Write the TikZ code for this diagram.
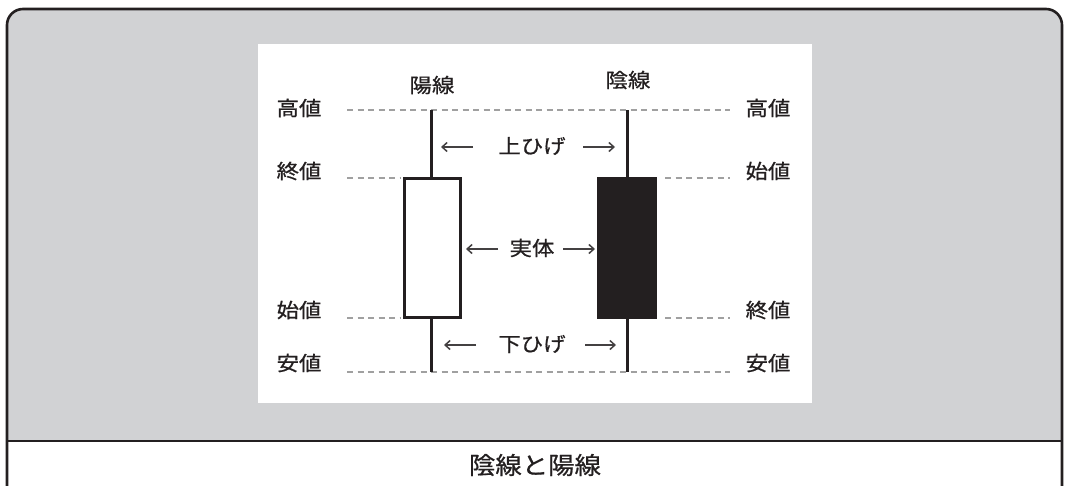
\documentclass[tikz,border=0pt]{standalone}
\usepackage{fontspec}
\setmainfont{Noto Sans CJK JP}
\newfontfamily\jpm[FakeBold=0.7]{Noto Sans CJK JP}
\usetikzlibrary{arrows.meta}
\definecolor{frameg}{HTML}{D1D2D4}
\definecolor{ink}{HTML}{231F20}
\definecolor{dashg}{HTML}{A0A0A0}
\tikzset{
  lbl/.style={inner sep=0pt, text=ink, font=\jpm\fontsize{20}{24}\selectfont, xscale=1.12},
  mid/.style={inner sep=0pt, text=ink, font=\jpm\fontsize{20}{24}\selectfont, xscale=1.12},
  guide/.style={dashg, line width=1.3pt, dash pattern=on 6pt off 4.5pt},
  wick/.style={ink, line width=3pt},
  arr/.style={ink!85, line width=1.5pt, -{Straight Barb[length=5pt,width=9pt]}},
}
\begin{document}
\begin{tikzpicture}[x=1pt,y=-1pt]
\useasboundingbox (0,0) rectangle (1069,485);
\clip (0,0) rectangle (1069,485);
% outer frame
\fill[white, rounded corners=16pt] (7,9) rectangle (1062,502);
\fill[frameg, rounded corners=16pt] (7,9) rectangle (1062,441) ;
\fill[frameg] (7,420) rectangle (1062,441);
\draw[ink, line width=2.6pt, rounded corners=16pt] (7,9) rectangle (1062,502);
\draw[ink, line width=2.6pt] (7,441) -- (1062,441);
\node[inner sep=0pt, text=ink, font=\jpm\fontsize{24}{28}\selectfont, xscale=1.1] (title) at (535,465) {陰線と陽線};
% white panel
\fill[white] (258,44) rectangle (812,403);
% guides
\draw[guide] (347,110) -- (730,110);
\draw[guide] (347,178) -- (401,178);
\draw[guide] (665,178) -- (730,178);
\draw[guide] (347,318) -- (401,318);
\draw[guide] (665,318) -- (730,318);
\draw[guide] (347,372) -- (730,372);
% yang candle (white)
\coordinate (yh) at (431,110);
\coordinate (yl) at (431,372);
\node[draw=ink, line width=3pt, fill=white, minimum width=56pt, minimum height=139pt, inner sep=0pt] (ybody) at (432,248) {};
\draw[wick] (yh) -- (ybody.north -| yh);
\draw[wick] (ybody.south -| yl) -- (yl);
% yin candle (black)
\coordinate (nh) at (627,110);
\coordinate (nl) at (627,372);
\node[fill=ink, minimum width=60pt, minimum height=142pt, inner sep=0pt] (nbody) at (627,248) {};
\draw[wick] (nh) -- (nbody.north -| nh);
\draw[wick] (nbody.south -| nl) -- (nl);
% headers
\node[lbl] (yang) at (432,85) {陽線};
\node[lbl] (yin) at (628,80) {陰線};
% left labels
\node[lbl] (lh) at (299,108) {高値};
\node[lbl] (lc) at (299,171) {終値};
\node[lbl] (lo) at (299,310) {始値};
\node[lbl] (ll) at (299,363) {安値};
% right labels
\node[lbl] (rh) at (768,108) {高値};
\node[lbl] (ro) at (768,171) {始値};
\node[lbl] (rc) at (768,310) {終値};
\node[lbl] (rl) at (768,363) {安値};
% middle labels
\node[mid] (up) at (532,146) {上ひげ};
\node[mid] (body) at (532,248) {実体};
\node[mid] (dn) at (532,344) {下ひげ};
\coordinate (up1) at (441,147);
\coordinate (up2) at (473,147);
\coordinate (up3) at (583,147);
\coordinate (up4) at (615,147);
\coordinate (bd1) at (466,249);
\coordinate (bd2) at (498,249);
\coordinate (bd3) at (563,249);
\coordinate (bd4) at (595,249);
\coordinate (dn1) at (444,345);
\coordinate (dn2) at (476,345);
\coordinate (dn3) at (585,345);
\coordinate (dn4) at (616,345);
\draw[arr] (up2) -- (up1);
\draw[arr] (up3) -- (up4);
\draw[arr] (bd2) -- (bd1);
\draw[arr] (bd3) -- (bd4);
\draw[arr] (dn2) -- (dn1);
\draw[arr] (dn3) -- (dn4);
\end{tikzpicture}
\end{document}
